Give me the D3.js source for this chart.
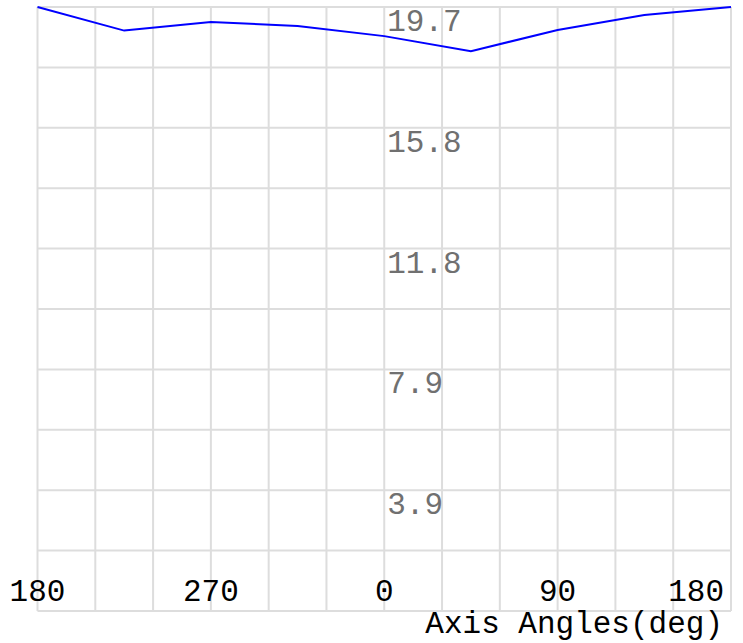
<!DOCTYPE html>
<html lang="en">
	<head>
		<meta charset="utf-8">
		<title>Axis Angles</title>
		<script src="https://cdnjs.cloudflare.com/ajax/libs/d3/7.1.1/d3.min.js"></script>
		<style type="text/css">
            body { margin: 0; background: white; }
            svg { display: block; }
            text { font-family: "Liberation Mono", "Courier New", monospace; }
            .grid line { stroke: #dddddd; stroke-width: 2; }
            .ylab { fill: #707070; font-size: 31px; }
            .xlab { fill: black; font-size: 31px; }
		</style>
	</head>
	<body>
		<div id="chart"></div>
		<script type="text/javascript">

            // data
            const angles = [-180, -135, -90, -45, 0, 45, 90, 135, 180];
            const values = [19.70, 18.93, 19.21, 19.08, 18.75, 18.26, 18.95, 19.44, 19.70];

            const xGridTicks = [-180, -150, -120, -90, -60, -30, 0, 30, 60, 90, 120, 150, 180];
            const xLabelTicks = [-180, -90, 0, 90, 180];
            const xLabelText = ["180", "270", "0", "90", "180"];
            const yMax = 19.7;
            const yGridTicks = [0, 1.97, 3.94, 5.91, 7.88, 9.85, 11.82, 13.79, 15.76, 17.73, 19.7];
            const yLabelTicks = [3.94, 7.88, 11.82, 15.76, 19.7];
            const yLabelText = ["3.9", "7.9", "11.8", "15.8", "19.7"];
            const axisTitle = "Axis Angles(deg)";

            const width = 743;
            const height = 643;
            const plotLeft = 37.5, plotRight = 731, plotTop = 7, plotBottom = 611;

            const svg = d3.select("#chart")
                .append("svg")
                .attr("width", width)
                .attr("height", height);

            const xScale = d3.scaleLinear()
                .domain([-180, 180])
                .range([plotLeft, plotRight]);

            const yScale = d3.scaleLinear()
                .domain([0, yMax])
                .range([plotBottom, plotTop]);

            // grid
            const grid = svg.append("g").attr("class", "grid");
            grid.selectAll("line.v")
                .data(xGridTicks)
                .enter()
                .append("line")
                .attr("class", "v")
                .attr("x1", d => xScale(d)).attr("x2", d => xScale(d))
                .attr("y1", plotTop).attr("y2", plotBottom);
            grid.selectAll("line.h")
                .data(yGridTicks)
                .enter()
                .append("line")
                .attr("class", "h")
                .attr("x1", plotLeft).attr("x2", plotRight)
                .attr("y1", d => yScale(d)).attr("y2", d => yScale(d));

            // y labels hang just under their grid line, right of the 0 deg line
            svg.append("g")
                .selectAll("text")
                .data(yLabelTicks)
                .enter()
                .append("text")
                .attr("class", "ylab")
                .attr("x", xScale(0) + 3)
                .attr("y", d => yScale(d) + 24)
                .text((d, i) => yLabelText[i]);

            // x labels, last one kept inside the plot
            svg.append("g")
                .selectAll("text")
                .data(xLabelTicks)
                .enter()
                .append("text")
                .attr("class", "xlab")
                .attr("x", (d, i) => i == xLabelTicks.length - 1 ? xScale(d) - 7 : xScale(d))
                .attr("y", plotBottom - 10)
                .attr("text-anchor", (d, i) => i == xLabelTicks.length - 1 ? "end" : "middle")
                .text((d, i) => xLabelText[i]);

            svg.append("text")
                .attr("class", "xlab")
                .attr("x", xScale(180) - 8)
                .attr("y", plotBottom + 22)
                .attr("text-anchor", "end")
                .text(axisTitle);

            // the line
            const line = d3.line()
                .x((d, i) => xScale(angles[i]))
                .y(d => yScale(d));

            svg.append("path")
                .datum(values)
                .attr("fill", "none")
                .attr("stroke", "blue")
                .attr("stroke-width", 2)
                .attr("d", line);

		</script>
	</body>
</html>
